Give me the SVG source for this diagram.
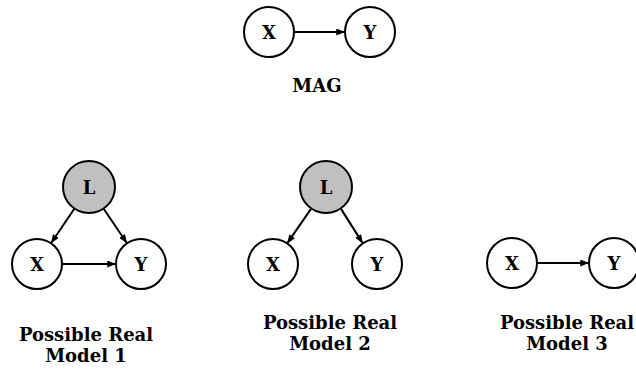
<svg xmlns="http://www.w3.org/2000/svg" width="636" height="372" viewBox="0 0 636 372">
<defs>
<style>
.node circle{fill:#fff;stroke:#000;stroke-width:2}
.node.latent circle{fill:#c0c0c0}
.node text{font-family:"DejaVu Serif",serif;font-weight:bold;font-size:18px;text-anchor:middle;dominant-baseline:central}
.label{font-family:"DejaVu Serif",serif;font-weight:bold;font-size:18px;text-anchor:middle}
.edges line{stroke:#000;stroke-width:2;marker-end:url(#ah)}
</style>
<marker id="ah" viewBox="0 0 10 8" refX="10" refY="4" markerWidth="9" markerHeight="7" markerUnits="userSpaceOnUse" orient="auto">
<path d="M0,0 L10,4 L0,8 Z" fill="#000"/>
</marker>
</defs>
<rect width="636" height="372" fill="#fff"/>
<g class="edges">
<line x1="294" y1="32" x2="345" y2="32"/>
<line x1="74.5" y1="208.5" x2="51" y2="243.3"/>
<line x1="103.5" y1="208.5" x2="127" y2="243.3"/>
<line x1="62" y1="264" x2="116" y2="264"/>
<line x1="311.3" y1="208.4" x2="287.2" y2="243.4"/>
<line x1="340.7" y1="208.4" x2="362.8" y2="243.4"/>
<line x1="537" y1="263" x2="589" y2="263"/>
</g>
<g id="mag-x" class="node"><circle cx="269" cy="32" r="25"/><text x="269" y="32">X</text></g>
<g id="mag-y" class="node"><circle cx="370" cy="32" r="25"/><text x="370" y="32">Y</text></g>
<g id="m1-l" class="node latent"><circle cx="89" cy="187" r="26"/><text x="89" y="187">L</text></g>
<g id="m1-x" class="node"><circle cx="37" cy="264" r="25"/><text x="37" y="264">X</text></g>
<g id="m1-y" class="node"><circle cx="141" cy="264" r="25"/><text x="141" y="264">Y</text></g>
<g id="m2-l" class="node latent"><circle cx="326" cy="187" r="26"/><text x="326" y="187">L</text></g>
<g id="m2-x" class="node"><circle cx="273" cy="264" r="25"/><text x="273" y="264">X</text></g>
<g id="m2-y" class="node"><circle cx="377" cy="264" r="25"/><text x="377" y="264">Y</text></g>
<g id="m3-x" class="node"><circle cx="512" cy="263" r="25"/><text x="512" y="263">X</text></g>
<g id="m3-y" class="node"><circle cx="614" cy="263" r="25"/><text x="614" y="263">Y</text></g>
<text class="label" x="317" y="92">MAG</text>
<text class="label" x="86" y="341">Possible Real</text>
<text class="label" x="86" y="362">Model 1</text>
<text class="label" x="330" y="329">Possible Real</text>
<text class="label" x="330" y="350">Model 2</text>
<text class="label" x="567" y="329">Possible Real</text>
<text class="label" x="567" y="350">Model 3</text>
</svg>
